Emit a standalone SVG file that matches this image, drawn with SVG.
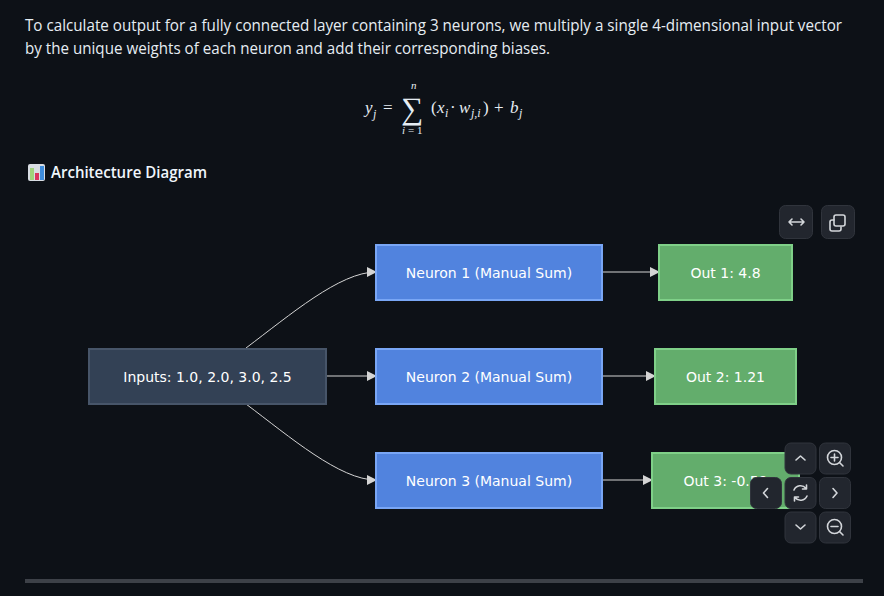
<svg xmlns="http://www.w3.org/2000/svg" width="884" height="596" viewBox="0 0 884 596">
<style>
.p{font-family:"Open Sans","Noto Sans",sans-serif;font-size:15.5px;fill:#e6edf3}
.h{font-family:"Open Sans","Noto Sans",sans-serif;font-size:15.5px;font-weight:600;fill:#f0f6fc}
.m{font-family:"Liberation Serif",serif;font-style:italic;fill:#e6edf3}
.u{font-family:"Liberation Serif",serif;fill:#e6edf3}
.n{font-family:"DejaVu Sans",sans-serif;font-size:14px;fill:#fff;text-anchor:middle}
.blue{fill:#5183de;stroke:#79a6f5;stroke-width:2}
.green{fill:#63ad6c;stroke:#7fd088;stroke-width:2}
.dark{fill:#334155;stroke:#475569;stroke-width:2}
.edge{fill:none;stroke:#d4d4d4;stroke-width:1}
.btn{fill:#22262e;stroke:#30343c;stroke-width:1}
.ic{fill:none;stroke:#d3d6da;stroke-width:1.6;stroke-linecap:round;stroke-linejoin:round}
</style>
<defs>
<marker id="arrow" viewBox="0 0 10 10" refX="9" refY="5" markerWidth="10" markerHeight="10" markerUnits="userSpaceOnUse" orient="auto"><path d="M0 0L10 5L0 10z" fill="#d4d4d4"/></marker>
</defs>
<rect width="884" height="596" fill="#0d1117"/>
<text class="p" x="25" y="31" textLength="817" lengthAdjust="spacingAndGlyphs">To calculate output for a fully connected layer containing 3 neurons, we multiply a single 4-dimensional input vector</text>
<text class="p" x="25" y="54" textLength="525" lengthAdjust="spacingAndGlyphs">by the unique weights of each neuron and add their corresponding biases.</text>
<g id="formula">
<text class="m" x="365" y="113" font-size="17">y</text><text class="m" x="373" y="118" font-size="12">j</text>
<text class="u" x="383" y="113" font-size="17">=</text>
<text class="u" x="401" y="119" font-size="31">∑</text>
<text class="m" x="411" y="89" font-size="11">n</text>
<text class="m" x="402" y="134" font-size="11">i</text><text class="u" x="408" y="134" font-size="11">= 1</text>
<text class="u" x="431" y="113" font-size="17">(</text><text class="m" x="437" y="113" font-size="17">x</text><text class="m" x="445" y="117" font-size="12">i</text>
<text class="u" x="450" y="113" font-size="17">·</text><text class="m" x="459" y="113" font-size="17">w</text><text class="m" x="471" y="117" font-size="12">j,i</text>
<text class="u" x="483" y="113" font-size="17">)</text><text class="u" x="494" y="113" font-size="17">+</text>
<text class="m" x="510" y="113" font-size="17">b</text><text class="m" x="519" y="117" font-size="12">j</text>
</g>
<g id="chart-icon">
<rect x="28" y="164" width="17" height="17" rx="2" fill="#d8dde3"/>
<rect x="30" y="168" width="4" height="12" fill="#9fd27a"/>
<rect x="35" y="173" width="4" height="7" fill="#d9345f"/>
<rect x="40" y="166" width="4" height="14" fill="#3e8ddd"/>
</g>
<text class="h" x="51" y="178" textLength="156" lengthAdjust="spacingAndGlyphs">Architecture Diagram</text>
<g id="connectors">
<path class="edge" marker-end="url(#arrow)" d="M246 348C290 315 340 272 376 272"/>
<path class="edge" marker-end="url(#arrow)" d="M327 376H376"/>
<path class="edge" marker-end="url(#arrow)" d="M246 404C290 437 340 480 376 480"/>
<path class="edge" marker-end="url(#arrow)" d="M603 272H659"/>
<path class="edge" marker-end="url(#arrow)" d="M603 376H655"/>
<path class="edge" marker-end="url(#arrow)" d="M603 480H652"/>
</g>
<g id="inputs"><rect class="dark" x="89" y="349" width="237" height="55"/><text class="n" x="207.500" y="381.500">Inputs: 1.0, 2.0, 3.0, 2.5</text></g>
<g id="neuron1"><rect class="blue" x="376" y="245" width="226" height="55"/><text class="n" x="489" y="277.500">Neuron 1 (Manual Sum)</text></g>
<g id="neuron2"><rect class="blue" x="376" y="349" width="226" height="55"/><text class="n" x="489" y="381.500">Neuron 2 (Manual Sum)</text></g>
<g id="neuron3"><rect class="blue" x="376" y="453" width="226" height="55"/><text class="n" x="489" y="485.500">Neuron 3 (Manual Sum)</text></g>
<g id="out1"><rect class="green" x="659" y="245" width="133" height="55"/><text class="n" x="725.500" y="277.500">Out 1: 4.8</text></g>
<g id="out2"><rect class="green" x="655" y="349" width="141" height="55"/><text class="n" x="725.500" y="381.500">Out 2: 1.21</text></g>
<g id="out3"><rect class="green" x="652" y="453" width="147" height="55"/><text class="n" x="725.500" y="485.500">Out 3: -0.59</text></g>
<g id="btn-fit"><rect class="btn" x="779.500" y="205.500" width="33" height="33" rx="6"/><path class="ic" d="M789 222H804M792 219L789 222L792 225M801 219L804 222L801 225"/></g>
<g id="btn-copy"><rect class="btn" x="821.500" y="205.500" width="33" height="33" rx="6"/><rect class="ic" x="834" y="215" width="11" height="11" rx="2"/><path class="ic" d="M834 220H832a2 2 0 0 0-2 2v7a2 2 0 0 0 2 2h7a2 2 0 0 0 2-2v-2"/></g>
<g id="btn-up"><rect class="btn" x="785" y="443" width="31" height="31" rx="6"/><path class="ic" d="M796 460L800.500 456L805 460"/></g>
<g id="btn-zoomin"><rect class="btn" x="819.500" y="443" width="31" height="31" rx="6"/><circle class="ic" cx="834.500" cy="457.500" r="7"/><path class="ic" d="M839.500 462.500L843 466M831 457.500H838M834.500 454V461"/></g>
<g id="btn-left"><rect class="btn" x="750.500" y="477.500" width="31" height="31" rx="6"/><path class="ic" d="M767.500 488.500L763.500 493L767.500 497.500"/></g>
<g id="btn-reset"><rect class="btn" x="785" y="477.500" width="31" height="31" rx="6"/><path class="ic" d="M794 490a7 7 0 0 1 12-1.500M807 496a7 7 0 0 1-12 1.500M806.500 485V489H802.500M794.500 501V497H798.500"/></g>
<g id="btn-right"><rect class="btn" x="819.500" y="477.500" width="31" height="31" rx="6"/><path class="ic" d="M833 488.500L837 493L833 497.500"/></g>
<g id="btn-down"><rect class="btn" x="785" y="512" width="31" height="31" rx="6"/><path class="ic" d="M796 525L800.500 529L805 525"/></g>
<g id="btn-zoomout"><rect class="btn" x="819.500" y="512" width="31" height="31" rx="6"/><circle class="ic" cx="834.500" cy="526.500" r="7"/><path class="ic" d="M839.500 531.500L843 535M831 526.500H838"/></g>
<rect id="rule" x="25" y="579" width="838" height="4" fill="#3d4148"/>
</svg>
